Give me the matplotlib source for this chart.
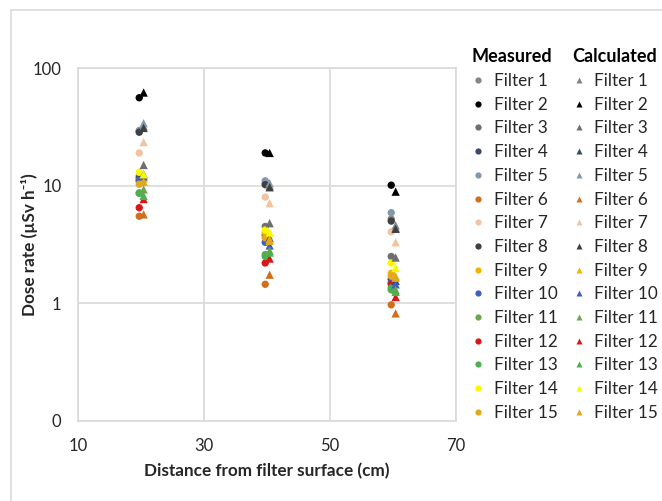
import matplotlib
matplotlib.use("Agg")
import matplotlib.pyplot as plt
from matplotlib.lines import Line2D
from matplotlib.patches import Rectangle
from matplotlib.ticker import FixedLocator, FixedFormatter, NullLocator

plt.rcParams['font.family'] = ['Lato', 'DejaVu Sans']

# distances (cm)
distances = [20, 40, 60]
filters = ["Filter %d" % i for i in range(1, 16)]

colors = ['#858585', '#000000', '#6e6e6e', '#3b4a6b', '#8497b0', '#d0701e',
          '#f2c3a0', '#3f3f3f', '#f0b400', '#3f5fc0', '#6aa84f', '#d81818',
          '#4caf50', '#f8f800', '#e0a820']

# dose rate (uSv/h) per filter at 20, 40, 60 cm
measured = [
    [29, 10.5, 5.2],
    [56, 19, 10.1],
    [12, 4.5, 2.5],
    [11.5, 3.8, 1.6],
    [29.5, 11, 5.9],
    [5.5, 1.45, 0.97],
    [19, 8.0, 4.05],
    [28.5, 10.2, 5.0],
    [11, 4.0, 1.8],
    [11, 3.3, 1.5],
    [8.7, 2.6, 1.3],
    [6.5, 2.2, 1.45],
    [8.6, 2.5, 1.35],
    [13, 4.2, 2.2],
    [10.3, 3.6, 1.7],
]
calculated = [
    [32, 10, 4.6],
    [62, 19, 8.9],
    [15, 4.8, 2.45],
    [12.5, 3.6, 1.55],
    [34, 10.5, 4.4],
    [5.7, 1.75, 0.82],
    [23.5, 7.1, 3.3],
    [31, 9.7, 4.3],
    [11.5, 3.5, 1.7],
    [12, 3.1, 1.45],
    [9.3, 2.8, 1.3],
    [7.7, 2.4, 1.13],
    [8.2, 2.7, 1.25],
    [12.5, 4.0, 2.0],
    [10.8, 3.4, 1.65],
]

fig = plt.figure(figsize=(6.62, 5.01), dpi=100)
ax = fig.add_axes([0.118, 0.16, 0.571, 0.704])

x_meas = [d - 0.3 for d in distances]
x_calc = [d + 0.4 for d in distances]
for i in range(15):
    ax.scatter(x_meas, measured[i], marker='o', s=28, color=colors[i],
               edgecolors='none', zorder=3)
for i in range(15):
    ax.scatter(x_calc, calculated[i], marker='^', s=36, color=colors[i],
               edgecolors='none', zorder=3)

ax.set_yscale('log')
ax.set_xlim(10, 70)
ax.set_ylim(0.1, 100)
ax.xaxis.set_major_locator(FixedLocator([10, 30, 50, 70]))
ax.yaxis.set_major_locator(FixedLocator([0.1, 1, 10, 100]))
ax.yaxis.set_major_formatter(FixedFormatter(['0', '1', '10', '100']))
ax.yaxis.set_minor_locator(NullLocator())
ax.tick_params(axis='both', length=0, labelsize=12, labelcolor='#262626')
ax.tick_params(axis='y', pad=12)
ax.tick_params(axis='x', pad=12)
ax.grid(True, color='#d9d9d9', linewidth=1.2)
for s in ax.spines.values():
    s.set_color('#d9d9d9')
    s.set_linewidth(1.2)
ax.set_axisbelow(True)

ax.set_xlabel('Distance from filter surface (cm)', fontsize=12.3, fontweight='bold',
              color='#262626', labelpad=7)
ax.set_ylabel('Dose rate (µSv h⁻¹)', fontsize=12.3, fontweight='bold',
              color='#262626', labelpad=-4)

# two legends side by side
h_meas = [Line2D([], [], linestyle='none', marker='o', markersize=4.5,
                 markerfacecolor=c, markeredgecolor='none') for c in colors]
h_calc = [Line2D([], [], linestyle='none', marker='^', markersize=5,
                 markerfacecolor=c, markeredgecolor='none') for c in colors]
common = dict(frameon=False, fontsize=12.3, labelspacing=0.45, handlelength=0.8,
              handletextpad=0.5, borderaxespad=0, alignment='left',
              title_fontproperties={'weight': 'bold', 'size': 13},
              labelcolor='#262626')
leg1 = fig.legend(h_meas, filters, title='Measured', loc='upper left',
                  bbox_to_anchor=(0.702, 0.917), **common)
leg2 = fig.legend(h_calc, filters, title='Calculated', loc='upper left',
                  bbox_to_anchor=(0.854, 0.917), **common)

# chart area border
fig.patches.append(Rectangle((0.0166, -0.1), 1.2, 1.08, transform=fig.transFigure,
                             fill=False, edgecolor='#d9d9d9', linewidth=1.2))

fig.savefig('out.png', dpi=100)
